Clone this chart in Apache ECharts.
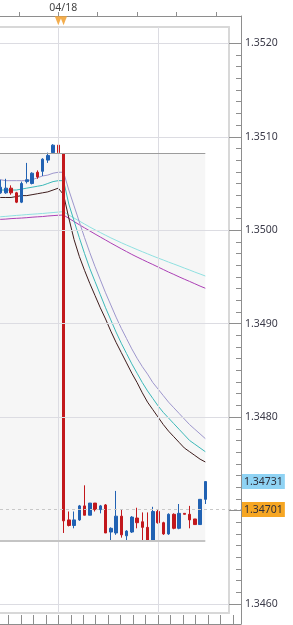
<!DOCTYPE html>
<html><head><meta charset="utf-8">
<script src="https://cdn.jsdelivr.net/npm/echarts@6/dist/echarts.min.js"></script>
<style>html,body{margin:0;padding:0;background:#fff;}#c{width:293px;height:625px;}</style>
</head><body><div id="c"></div><script>
// ---------- data ----------
const slots = [-13,-12,-11,-10,-9,-8,-7,-6,-5,-4,-3,-2,-1,0,1,2,3,4,5,6,7,8,9,10,11,12,13,14,15,16,17,18,19,20,21,22,23,24,25,26,27,28];
const opens  = [1.35040,1.35046,1.35040,1.35040,1.35045,1.35040,1.35030,1.35052,1.35050,1.35062,1.35063,1.35075,1.35083,1.35091,1.35082,1.34690,1.34684,1.34690,1.34705,1.34695,1.34708,1.34701,1.34706,1.34677,1.34676,1.34694,1.34673,1.34677,1.34692,1.34688,1.34682,1.34668,1.34699,1.34687,1.34675,1.34696,1.34681,1.34697,1.34696,1.34691,1.34685,1.34712];
const closes = [1.35046,1.35040,1.35046,1.35045,1.35040,1.35030,1.35050,1.35054,1.35061,1.35057,1.35076,1.35080,1.35091,1.35083,1.34689,1.34684,1.34690,1.34705,1.34695,1.34708,1.34701,1.34705,1.34676,1.34681,1.34694,1.34674,1.34678,1.34693,1.34687,1.34682,1.34668,1.34699,1.34687,1.34675,1.34696,1.34681,1.34697,1.34696,1.34690,1.34685,1.34712,1.34731];
const lows   = [1.35038,1.35038,1.35039,1.35039,1.35038,1.35029,1.35029,1.35050,1.35049,1.35055,1.35058,1.35072,1.35082,1.35082,1.34676,1.34683,1.34681,1.34689,1.34695,1.34695,1.34699,1.34697,1.34676,1.34668,1.34674,1.34671,1.34668,1.34676,1.34681,1.34668,1.34668,1.34668,1.34686,1.34674,1.34674,1.34680,1.34680,1.34696,1.34681,1.34685,1.34685,1.34707];
const highs  = [1.35052,1.35050,1.35054,1.35055,1.35048,1.35041,1.35052,1.35072,1.35062,1.35064,1.35077,1.35083,1.35092,1.35092,1.35082,1.34699,1.34699,1.34706,1.34727,1.34708,1.34708,1.34706,1.34707,1.34682,1.34721,1.34701,1.34679,1.34694,1.34703,1.34698,1.34698,1.34704,1.34701,1.34688,1.34697,1.34697,1.34707,1.34697,1.34705,1.34691,1.34712,1.34731];

const upperBand  = [1.35054,1.35054,1.35054,1.35053,1.35053,1.35053,1.35053,1.35053,1.35054,1.35056,1.35058,1.35059,1.35061,1.35062,1.35062,1.35043,1.35026,1.35009,1.34992,1.34976,1.34961,1.34947,1.34933,1.34920,1.34907,1.34895,1.34884,1.34873,1.34863,1.34854,1.34846,1.34837,1.34830,1.34823,1.34816,1.34810,1.34804,1.34798,1.34792,1.34787,1.34782,1.34777];
const middleBand = [1.35043,1.35043,1.35043,1.35043,1.35043,1.35043,1.35044,1.35045,1.35046,1.35047,1.35048,1.35050,1.35052,1.35053,1.35053,1.35028,1.35010,1.34992,1.34975,1.34959,1.34945,1.34931,1.34917,1.34904,1.34891,1.34879,1.34868,1.34857,1.34847,1.34837,1.34828,1.34820,1.34812,1.34805,1.34799,1.34793,1.34787,1.34781,1.34775,1.34771,1.34767,1.34763];
const lowerBand  = [1.35035,1.35035,1.35035,1.35035,1.35035,1.35036,1.35037,1.35037,1.35038,1.35039,1.35040,1.35041,1.35043,1.35045,1.35038,1.35013,1.34990,1.34972,1.34957,1.34943,1.34930,1.34917,1.34905,1.34892,1.34880,1.34869,1.34858,1.34847,1.34837,1.34826,1.34816,1.34808,1.34800,1.34792,1.34785,1.34779,1.34773,1.34767,1.34763,1.34759,1.34755,1.34752];
const slowAverageA = [1.350136,1.350140,1.350144,1.350148,1.350153,1.350158,1.350162,1.350167,1.350171,1.350175,1.350179,1.350184,1.350189,1.350194,1.350198,1.350162,1.350130,1.350098,1.350066,1.350034,1.350004,1.349975,1.349946,1.349918,1.349892,1.349866,1.349841,1.349817,1.349793,1.349770,1.349747,1.349724,1.349702,1.349681,1.349659,1.349638,1.349617,1.349595,1.349574,1.349552,1.349531,1.349510];
const slowAverageB = [1.350109,1.350112,1.350116,1.350119,1.350124,1.350127,1.350130,1.350134,1.350139,1.350143,1.350146,1.350152,1.350156,1.350160,1.350162,1.350127,1.350093,1.350058,1.350025,1.349992,1.349959,1.349927,1.349895,1.349863,1.349832,1.349801,1.349771,1.349741,1.349713,1.349686,1.349659,1.349633,1.349606,1.349579,1.349552,1.349527,1.349501,1.349476,1.349452,1.349427,1.349402,1.349379];

const priceTicks = [1.3460, 1.3470, 1.3480, 1.3490, 1.3500, 1.3510, 1.3520];
const gridPrices = [1.3460, 1.3480, 1.3490, 1.3500, 1.3510, 1.3520];
const dayLines = [0, 19];
const dateTick = 0, dateLabel = '04/18';
const boxStart = -13, boxEnd = 28, boxHigh = 1.35082, boxLow = 1.34668;
const markedPrices = [1.34731, 1.34701];
const eventMarkers = [0, 1];
const eventLevel = 1.35224;

// ---------- layout ----------
const W = 293, H = 625;
const X0 = 58.3, BAND = 5.25;
const AXIS_X = 241, TOP_Y = 16, BOT_Y = 624;
const FRAME_R = 229, FRAME_T = 27, FRAME_B = 613;
const PY_TOP = 43.3, PY_BOT = 604;
const TOP_STEP = 7.5, BOT_STEP = 2.375;
const pMin = priceTicks[0], pMax = priceTicks[priceTicks.length - 1];
const priceAt = y => pMax - (y - PY_TOP) / (PY_BOT - PY_TOP) * (pMax - pMin);
const slotAt = x => (x - X0) / BAND;
const FONT = 'Noto Sans';
const AX = '#8e8e8e';
const GRID = '#dcdce2';
const FRAMEC = '#d8d8d8';
const xLeft = slotAt(0);
const boxFrom = Math.max(boxStart, xLeft);   // clip the box at the visible left edge

const chart = echarts.init(document.getElementById('c'));
const candleData = slots.map((j, i) => [j, opens[i], closes[i], lows[i], highs[i]]);
const pairs = arr => slots.map((j, i) => [j, arr[i]]);
const lineSeries = (data, color) => ({
  type: 'line', xAxisIndex: 5, yAxisIndex: 4, data: pairs(data), showSymbol: false, symbol: 'none',
  z: 2, silent: true, clip: true, lineStyle: { color: color, width: 1 }
});
const boxEdge = (price, color, width) => ({
  type: 'line', xAxisIndex: 5, yAxisIndex: 4, data: [], silent: true, z: 1,
  markLine: { silent: true, precision: 6, symbol: ['none', 'none'], label: { show: false },
    lineStyle: { color: color, width: width, type: 'solid' },
    data: [[{ xAxis: boxFrom, yAxis: price }, { xAxis: boxEnd, yAxis: price }]] }
});
const noOnZero = { onZero: false };

chart.setOption({
  animation: false,
  backgroundColor: '#ffffff',
  textStyle: { fontFamily: FONT },
  grid: [
    { left: 0, right: W - AXIS_X, top: TOP_Y, bottom: H - BOT_Y },                       // 0 outer axes
    { left: X0 + (-TOP_STEP) * BAND, right: W - AXIS_X, top: TOP_Y, bottom: H - BOT_Y }, // 1 top ticks
    { left: X0 - 4 * BOT_STEP * BAND, right: W - AXIS_X, top: TOP_Y, bottom: H - BOT_Y },// 2 bottom ticks
    { left: 0, right: W - FRAME_R, top: FRAME_T, bottom: H - FRAME_B },                  // 3 frame
    { left: 0, right: W - FRAME_R, top: PY_TOP, bottom: H - PY_BOT }                     // 4 main
  ],
  xAxis: [
    { gridIndex: 0, type: 'value', position: 'top', min: xLeft, max: slotAt(AXIS_X),
      axisLine: { show: true, onZero: false, lineStyle: { color: AX } }, axisTick: { show: false },
      axisLabel: { show: false }, splitLine: { show: false } },
    { gridIndex: 0, type: 'value', position: 'bottom', min: xLeft, max: slotAt(AXIS_X),
      axisLine: { show: true, onZero: false, lineStyle: { color: AX } }, axisTick: { show: false },
      axisLabel: { show: false }, splitLine: { show: false } },
    { gridIndex: 1, type: 'value', position: 'top', min: -TOP_STEP, max: slotAt(AXIS_X), interval: TOP_STEP,
      axisLine: { show: false, onZero: false },
      axisTick: { show: true, length: 4, lineStyle: { color: AX } },
      axisLabel: { show: true, formatter: v => (v === dateTick ? dateLabel : ''), fontFamily: FONT,
        fontSize: 10.5, color: '#444', margin: 2, padding: [0, 0, 0, 10], showMaxLabel: false },
      splitLine: { show: false } },
    { gridIndex: 2, type: 'value', position: 'bottom', min: -4 * BOT_STEP, max: slotAt(AXIS_X), interval: BOT_STEP,
      axisLine: { show: false, onZero: false },
      axisTick: { show: true, inside: true, length: 9, lineStyle: { color: AX } },
      axisLabel: { show: false }, splitLine: { show: false } },
    { gridIndex: 3, type: 'value', position: 'top', min: xLeft, max: slotAt(FRAME_R),
      axisLine: { show: true, onZero: false, lineStyle: { color: FRAMEC, width: 2 } }, axisTick: { show: false },
      axisLabel: { show: false }, splitLine: { show: false } },
    { gridIndex: 4, type: 'value', min: xLeft, max: slotAt(FRAME_R), show: false },
    { gridIndex: 3, type: 'value', position: 'bottom', min: xLeft, max: slotAt(FRAME_R),
      axisLine: { show: true, onZero: false, lineStyle: { color: FRAMEC, width: 2 } }, axisTick: { show: false },
      axisLabel: { show: false }, splitLine: { show: false } }
  ],
  yAxis: [
    { gridIndex: 0, type: 'value', position: 'right', min: priceAt(BOT_Y), max: priceAt(TOP_Y),
      axisLine: { show: true, onZero: false, lineStyle: { color: AX } }, axisTick: { show: false },
      axisLabel: { show: false }, splitLine: { show: false } },
    { gridIndex: 1, type: 'value', show: false, axisLine: noOnZero },
    { gridIndex: 2, type: 'value', show: false, axisLine: noOnZero },
    { gridIndex: 3, type: 'value', position: 'right', min: priceAt(FRAME_B), max: priceAt(FRAME_T),
      axisLine: { show: true, onZero: false, lineStyle: { color: FRAMEC, width: 2 } }, axisTick: { show: false },
      axisLabel: { show: false }, splitLine: { show: false } },
    { gridIndex: 4, type: 'value', position: 'right', offset: AXIS_X - FRAME_R,
      min: pMin, max: pMax, interval: 0.001,
      axisLine: { show: false, onZero: false },
      axisTick: { show: true, inside: true, length: AXIS_X - FRAME_R, lineStyle: { color: AX } },
      minorTick: { show: true, splitNumber: 8, length: 5, lineStyle: { color: AX } },
      axisLabel: { show: true, margin: 4, formatter: v => v.toFixed(4), fontFamily: FONT,
        fontSize: 10.5, color: '#3a3a48' },
      splitLine: { show: false } }
  ],
  series: [
    { type: 'line', xAxisIndex: 4, yAxisIndex: 3, data: [], silent: true, z: 0,
      markLine: { silent: true, precision: 6, symbol: ['none', 'none'], label: { show: false },
        lineStyle: { color: GRID, width: 1, type: 'solid' },
        data: dayLines.map(c => ({ xAxis: c })).concat(gridPrices.map(p => ({ yAxis: p }))) } },
    { type: 'line', xAxisIndex: 5, yAxisIndex: 4, data: [], silent: true, z: 1,
      markArea: { silent: true, precision: 6, itemStyle: { color: 'rgba(0,0,0,0.035)' },
        data: [[{ xAxis: boxFrom, yAxis: boxHigh }, { xAxis: boxEnd, yAxis: boxLow }]] } },
    boxEdge(boxHigh, '#9c9c9c', 1),
    boxEdge(boxLow, '#c4c4c4', 2),
    lineSeries(slowAverageA, '#8fe0e0'),
    lineSeries(slowAverageB, '#ab3fb5'),
    lineSeries(upperBand, '#9d96cc'),
    lineSeries(middleBand, '#3bb8b8'),
    lineSeries(lowerBand, '#3d1c1c'),
    { type: 'candlestick', xAxisIndex: 5, yAxisIndex: 4, data: candleData, barWidth: 3, z: 3, silent: true, clip: true,
      itemStyle: { color: '#2162b3', color0: '#c2181c', borderColor: '#2162b3', borderColor0: '#c2181c', borderWidth: 1 } },
    { type: 'scatter', xAxisIndex: 0, yAxisIndex: 0, z: 5, silent: true,
      data: eventMarkers.map(j => [j, eventLevel]),
      symbol: 'path://M0,0L10,0L5,12Z', symbolSize: [7, 9],
      itemStyle: { color: '#f2a43a', opacity: 0.9 },
      markLine: { silent: true, precision: 6, symbol: ['none', 'none'],
        label: { show: true, position: 'end', distance: 1, formatter: p => Number(p.value).toFixed(5),
          fontFamily: FONT, fontSize: 10.5, color: '#2e2e3a', padding: [2, 2, 2, 2] },
        data: [
          { yAxis: markedPrices[0], lineStyle: { color: 'rgba(255,255,255,0)', width: 1 }, label: { backgroundColor: '#8fd3f4' } },
          { yAxis: markedPrices[1], lineStyle: { color: '#c8c8c8', width: 1, type: [3, 3] }, label: { backgroundColor: '#f6a623' } }
        ] } }
  ]
});
</script></body></html>
